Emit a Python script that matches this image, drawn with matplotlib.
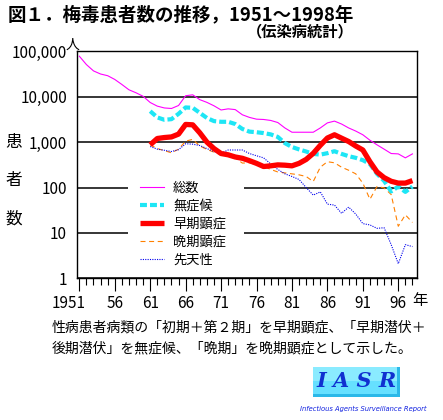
import matplotlib
matplotlib.use('Agg')
import matplotlib.pyplot as plt
from matplotlib.patches import Rectangle
from matplotlib import font_manager
from matplotlib.transforms import ScaledTranslation

plt.rcParams['font.family'] = ['Noto Sans CJK JP', 'DejaVu Sans']
plt.rcParams['lines.scale_dashes'] = False

# ---------------- data ----------------
years_total = list(range(1951, 1999))
years_detail = list(range(1961, 1999))

total = [78000, 51000, 37000, 31600, 29000, 24000, 18600, 14200, 12200, 10200,
         7450, 6200, 5650, 5500, 6400, 10500, 11000, 8600, 7500, 6300,
         5100, 5400, 5200, 4000, 3500, 3200, 3150, 3000, 2700, 2050,
         1650, 1650, 1650, 1650, 2050, 2650, 2900, 2500, 2050, 1750,
         1450, 1100, 870, 700, 560, 550, 450, 550]

asymptomatic = [4800, 3500, 3100, 3200, 4200, 5800, 5700, 4400, 3400, 2900,
                2800, 2800, 2500, 1950, 1700, 1650, 1580, 1480, 1300, 950,
                780, 690, 620, 550, 530, 570, 630, 550, 490, 450,
                400, 330, 200, 140, 82, 105, 80, 105]

early = [870, 1200, 1260, 1300, 1500, 2450, 2400, 1600, 1000, 720,
         560, 525, 470, 440, 390, 340, 290, 300, 315, 310,
         300, 340, 415, 565, 850, 1230, 1450, 1220, 1030, 820,
         670, 370, 220, 165, 137, 125, 125, 142]

late = [870, 720, 650, 580, 700, 1050, 1150, 820, 690, 600,
        530, 560, 450, 345, 350, 320, 290, 250, 220, 210,
        200, 190, 175, 135, 280, 370, 350, 280, 240, 200,
        125, 55, 105, 98, 70, 14, 25, 17]

congenital = [800, 700, 660, 620, 680, 920, 900, 840, 720, 620,
              570, 670, 670, 670, 560, 500, 450, 330, 250, 200,
              175, 150, 100, 68, 80, 43, 41, 27, 37, 26,
              16, 15, 12.6, 13, 5.5, 2.1, 5.5, 5]

series_labels = ['総数', '無症候', '早期顕症', '晩期顕症', '先天性']
ytick_values = [1, 10, 100, 1000, 10000, 100000]
ytick_labels = ['1', '10', '100', '1,000', '10,000', '100,000']
xtick_years = list(range(1951, 1997, 5))
xtick_labels = ['1951', '56', '61', '66', '71', '76', '81', '86', '91', '96']

# ---------------- figure ----------------
W, H = 443, 420
fig = plt.figure(figsize=(W / 100, H / 100), dpi=100)
fig.patch.set_facecolor('white')

ax_l, ax_r, ax_t, ax_b = 76.7, 416.7, 51.3, 278.3
ax = fig.add_axes([ax_l / W, 1 - ax_b / H, (ax_r - ax_l) / W, (ax_b - ax_t) / H])

ax.set_yscale('log')
ax.set_ylim(1, 100000)
ax.set_xlim(1950.63, 1998.6)

# gridlines
ax.set_axisbelow(True)
ax.yaxis.grid(True, which='major', color='black', linewidth=1.1)
ax.set_yticks(ytick_values)
ax.set_yticklabels(ytick_labels)
ax.yaxis.set_minor_locator(matplotlib.ticker.NullLocator())
ax.tick_params(axis='y', length=0, pad=7, labelsize=11)

ax.set_xticks(xtick_years)
ax.set_xticklabels(xtick_labels)
ax.set_xticks(list(range(1951, 1999)), minor=True)
ax.tick_params(axis='x', which='major', length=9.5, width=0.8, direction='out',
               pad=2.5, labelsize=11)
ax.tick_params(axis='x', which='minor', length=4.8, width=0.8, direction='out')
first = ax.get_xticklabels()[0]
first.set_ha('right')
first.set_transform(first.get_transform() + ScaledTranslation(6 / 100, 0, fig.dpi_scale_trans))

for s in ax.spines.values():
    s.set_linewidth(1.0)
    s.set_color('black')

# legend mask (white box hiding gridlines)
mask = Rectangle(((128 - ax_l) / (ax_r - ax_l), (ax_b - 272) / (ax_b - ax_t)),
                 (244 - 128) / (ax_r - ax_l), (272 - 175) / (ax_b - ax_t),
                 transform=ax.transAxes, facecolor='white', edgecolor='none', zorder=1)
ax.add_patch(mask)

l_total, = ax.plot(years_total, total, color='#FF00FF', linewidth=0.8, zorder=3,
                   label=series_labels[0])
l_asym, = ax.plot(years_detail, asymptomatic, color='#1EE6F5', linewidth=3.0,
                  dashes=(5, 2.2), zorder=4, label=series_labels[1])
l_late, = ax.plot(years_detail, late, color='#FF8000', linewidth=0.8,
                  dashes=(3.6, 2.6), zorder=3, label=series_labels[3])
l_cong, = ax.plot(years_detail, congenital, color='#0000EE', linewidth=0.8,
                  dashes=(0.8, 0.9), zorder=3, label=series_labels[4])
l_early, = ax.plot(years_detail, early, color='#FF0000', linewidth=3.8,
                   zorder=5, label=series_labels[2], solid_capstyle='butt')

fs_leg = 9.5
leg = ax.legend(handles=[l_total, l_asym, l_early, l_late, l_cong],
                labels=series_labels, loc='upper left',
                bbox_to_anchor=((140 - ax_l) / (ax_r - ax_l), (ax_b - 182) / (ax_b - ax_t)),
                frameon=False, borderpad=0, borderaxespad=0, fontsize=fs_leg,
                handlelength=1.82, handletextpad=0.68, labelspacing=0.37)
leg.set_zorder(6)

# ---------------- texts ----------------
def ftext(x, y, s, **kw):
    fig.text(x / W, 1 - y / H, s, **kw)

ftext(8, 15, '図１．梅毒患者数の推移，1951～1998年', fontsize=13.3,
      fontweight='bold', ha='left', va='center')
ftext(354, 31, '（伝染病統計）', fontsize=11, fontweight='bold', ha='right', va='center')
ftext(72, 45, '人', fontsize=10, ha='center', va='center')
for ch, yy in zip(['患', '者', '数'], [142, 180, 218.6]):
    ftext(13.5, yy, ch, fontsize=12, ha='center', va='center')
ftext(412, 301, '年', fontsize=11, ha='left', va='center')

ftext(52, 327, '性病患者病類の「初期＋第２期」を早期顕症、「早期潜伏＋',
      fontsize=10, ha='left', va='center')
ftext(52, 348, '後期潜伏」を無症候、「晩期」を晩期顕症として示した。',
      fontsize=10, ha='left', va='center')

# IASR logo
logo_ax = fig.add_axes([313 / W, 1 - 397 / H, 87 / W, 30 / H])
logo_ax.set_xlim(0, 1)
logo_ax.set_ylim(0, 1)
logo_ax.axis('off')
logo_ax.add_patch(Rectangle((0, 0), 1, 1, facecolor='#2BB8E8', edgecolor='none'))
logo_ax.add_patch(Rectangle((0, 0.1), 0.965, 0.9, facecolor='#66E0FF', edgecolor='none'))
logo_ax.add_patch(Rectangle((0, 0.55), 0.965, 0.45, facecolor='#8AEBFF', edgecolor='none'))
logo_ax.text(0.5, 0.52, 'I A S R', fontsize=15, fontweight='bold', style='italic',
             family='DejaVu Serif', color='#1030D0', ha='center', va='center')

names = {f.name for f in font_manager.fontManager.ttflist}
narrow = 'Liberation Sans Narrow' if 'Liberation Sans Narrow' in names else 'DejaVu Sans'
ftext(426, 409, 'Infectious Agents Surveillance Report', fontsize=4.9, style='italic',
      family=narrow, color='#1020E0', ha='right', va='center')

fig.savefig('out.png', dpi=100, facecolor='white')
